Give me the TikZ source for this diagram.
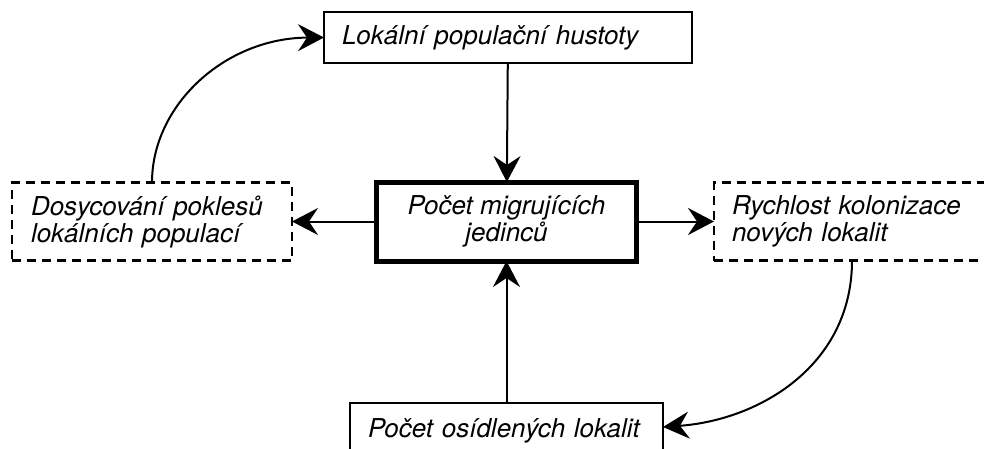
\documentclass[tikz,border=0pt]{standalone}
\usepackage{fontspec}
\setmainfont{TeX Gyre Heros}
\usetikzlibrary{arrows.meta}
\begin{document}
\begin{tikzpicture}[x=1pt,y=-1pt,
  every node/.style={font=\fontsize{26}{27}\selectfont\itshape, inner sep=0pt, outer sep=0pt},
  solidbox/.style={draw, line width=2pt, minimum height=#1, align=left, inner xsep=18pt},
  thickbox/.style={draw, line width=5pt, align=center},
  dashbox/.style={draw, line width=2.5pt, dash pattern=on 9pt off 6pt, align=left},
  conn/.style={line width=2pt, -{Stealth[length=26pt, width=27pt, inset=9pt]}}
]
\useasboundingbox (0,0) rectangle (984,448);
\clip (0,0) rectangle (984,448);
\node[solidbox=51pt, text width=332pt] (top) at (508,37.5) {Lokální populační hustoty};
\node[thickbox, minimum width=260pt, minimum height=79pt] (mid) at (506.5,221.5) {Počet migrujících\\jedinců};
\node[dashbox, minimum height=78pt, text width=242pt, inner xsep=19pt] (left) at (152,221.5) {Dosycování poklesů\\lokálních populací};
\node[dashbox, minimum height=78pt, text width=256pt, inner xsep=18pt] (right) at (860,221.5) {Rychlost kolonizace\\nových lokalit};
\coordinate (rs) at (852,260.5);
\node[solidbox=56pt, text width=277pt] (bot) at (506.5,431) {Počet osídlených lokalit};
\draw[conn] (top) -- (mid);
\draw[conn] (bot) -- (mid);
\draw[conn] (mid) -- (left);
\draw[conn] (mid) -- (right);
\draw[conn] (left.north) .. controls (152,105) and (225,38) .. (top.west);
\draw[conn] (rs) .. controls (852,365) and (760,420) .. ([yshift=4pt]bot.east);
\end{tikzpicture}
\end{document}
